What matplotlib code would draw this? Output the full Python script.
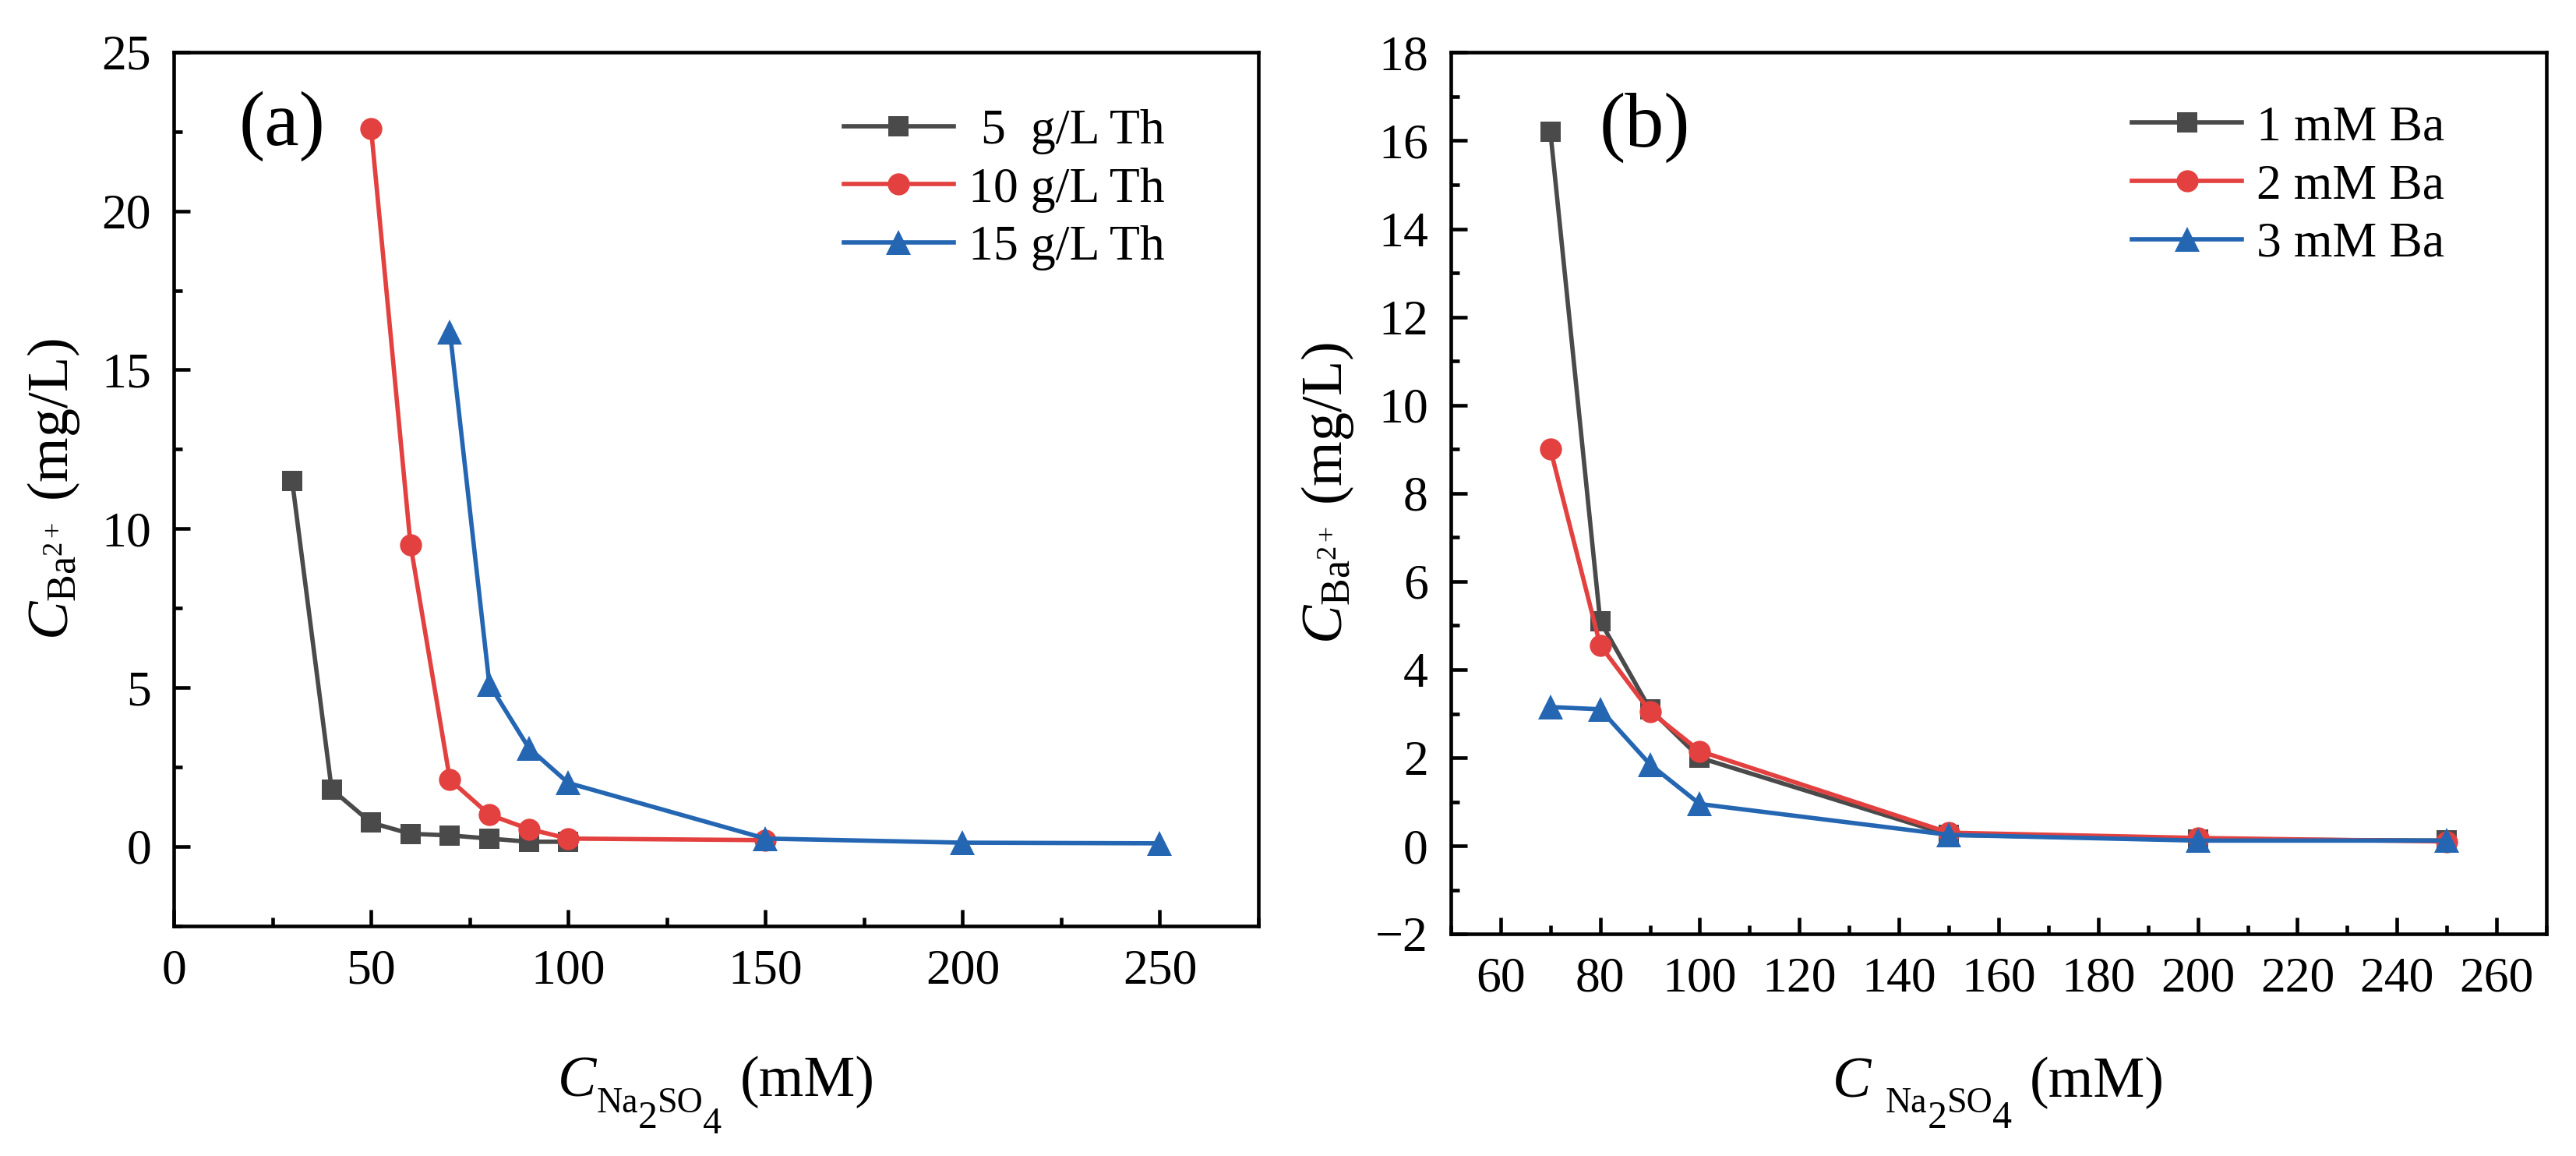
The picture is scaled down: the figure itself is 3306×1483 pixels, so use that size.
import matplotlib
matplotlib.use("Agg")
import matplotlib.pyplot as plt
import matplotlib.transforms as mtransforms
from matplotlib.ticker import MultipleLocator

# Ba2+ left in solution vs Na2SO4 dose, two panels

plt.rcParams['font.family'] = ['Liberation Serif', 'DejaVu Serif']
plt.rcParams['mathtext.fontset'] = 'custom'
plt.rcParams['mathtext.rm'] = 'Liberation Serif'
plt.rcParams['mathtext.it'] = 'Liberation Serif:italic'
plt.rcParams['mathtext.bf'] = 'Liberation Serif:bold'

GREY = "#4a4a4a"
RED = "#e34140"
BLUE = "#2566b3"

# panel (a): thiosulfate dose series
x_5th = [30, 40, 50, 60, 70, 80, 90, 100]
y_5th = [11.5, 1.8, 0.75, 0.4, 0.35, 0.25, 0.15, 0.15]
x_10th = [50, 60, 70, 80, 90, 100, 150]
y_10th = [22.6, 9.5, 2.1, 1.0, 0.55, 0.25, 0.2]
x_15th = [70, 80, 90, 100, 150, 200, 250]
y_15th = [16.2, 5.1, 3.1, 2.0, 0.25, 0.12, 0.1]
labels_a = [" 5  g/L Th", "10 g/L Th", "15 g/L Th"]

# panel (b): Ba dose series
x_ba = [70, 80, 90, 100, 150, 200, 250]
y_1ba = [16.2, 5.1, 3.1, 2.0, 0.25, 0.15, 0.12]
y_2ba = [9.0, 4.55, 3.05, 2.15, 0.3, 0.18, 0.1]
y_3ba = [3.15, 3.1, 1.85, 0.95, 0.25, 0.12, 0.12]
labels_b = ["1 mM Ba", "2 mM Ba", "3 mM Ba"]

TICK_FS = 15.3
LABEL_FS = 17.8
SUB_FS = 11


def style_axes(ax):
    for s in ax.spines.values():
        s.set_linewidth(1.1)
    ax.tick_params(which='both', direction='in', top=False, right=False,
                   labelsize=TICK_FS, width=1.1, pad=7)
    ax.tick_params(which='major', length=5)
    ax.tick_params(which='minor', length=2.6)


def draw_series(ax, xs, ys, labels):
    markers = ['s', 'o', '^']
    colors = [GREY, RED, BLUE]
    sizes = [6.4, 6.8, 7.8]
    for x, y, lab, m, c, ms in zip(xs, ys, labels, markers, colors, sizes):
        ax.plot(x, y, marker=m, color=c, markersize=ms, linewidth=1.35,
                label=lab, markeredgewidth=0)


def pieced_xlabel(ax, parts, y_pts):
    # parts: (text, size, dy in points, style); None text = gap of size points
    fig = ax.figure
    renderer = fig.canvas.get_renderer()
    widths = []
    for s, fs, dy, st in parts:
        if s is None:
            widths.append(fs)
            continue
        t = fig.text(0, 0, s, fontsize=fs, style=st)
        widths.append(t.get_window_extent(renderer).width * 72 / fig.dpi)
        t.remove()
    x = -sum(widths) / 2
    for (s, fs, dy, st), w in zip(parts, widths):
        if s is not None:
            tr = mtransforms.offset_copy(ax.transAxes, fig=fig, x=x,
                                         y=y_pts + dy, units='points')
            ax.text(0.5, 0, s, transform=tr, fontsize=fs, style=st,
                    ha='left', va='baseline')
        x += w


fig = plt.figure(figsize=(3306 / 300, 1483 / 300), dpi=300)

ax1 = fig.add_axes([0.0675, 0.199, 0.421, 0.756])
draw_series(ax1, [x_5th, x_10th, x_15th], [y_5th, y_10th, y_15th], labels_a)
ax1.set_xlim(0, 275)
ax1.set_ylim(-2.5, 25)
ax1.xaxis.set_major_locator(MultipleLocator(50))
ax1.xaxis.set_minor_locator(MultipleLocator(25))
ax1.yaxis.set_major_locator(MultipleLocator(5))
ax1.yaxis.set_minor_locator(MultipleLocator(2.5))
style_axes(ax1)
pieced_xlabel(ax1, [("C", LABEL_FS, 0, 'italic'),
                    ("Na", SUB_FS, -4.8, 'normal'),
                    ("2", 12, -9.6, 'normal'),
                    ("SO", SUB_FS, -4.8, 'normal'),
                    ("4", 11.6, -11.4, 'normal'),
                    (None, 5.5, 0, None),
                    ("(mM)", LABEL_FS, 0, 'normal')], -52.5)
ax1.set_ylabel(r'$C_{\mathrm{Ba}^{2+}}$ (mg/L)', fontsize=LABEL_FS, labelpad=6)
ax1.text(0.10, 0.915, '(a)', transform=ax1.transAxes, fontsize=24,
         ha='center', va='center')
ax1.legend(loc='upper left', bbox_to_anchor=(0.618, 0.935), frameon=False,
           fontsize=TICK_FS, handlelength=2.2, handletextpad=0.3,
           labelspacing=0.25, borderpad=0, borderaxespad=0)

ax2 = fig.add_axes([0.5632, 0.192, 0.4253, 0.7626])
draw_series(ax2, [x_ba, x_ba, x_ba], [y_1ba, y_2ba, y_3ba], labels_b)
ax2.set_xlim(50, 270)
ax2.set_ylim(-2, 18)
ax2.xaxis.set_major_locator(MultipleLocator(20))
ax2.xaxis.set_minor_locator(MultipleLocator(10))
ax2.yaxis.set_major_locator(MultipleLocator(2))
ax2.yaxis.set_minor_locator(MultipleLocator(1))
style_axes(ax2)
pieced_xlabel(ax2, [("C", LABEL_FS, 0, 'italic'),
                    (None, 4.5, 0, None),
                    ("Na", SUB_FS, -4.8, 'normal'),
                    ("2", 12, -9.6, 'normal'),
                    ("SO", SUB_FS, -4.8, 'normal'),
                    ("4", 12, -9.6, 'normal'),
                    (None, 5.5, 0, None),
                    ("(mM)", LABEL_FS, 0, 'normal')], -50.2)
ax2.set_ylabel(r'$C_{\mathrm{Ba}^{2+}}$ (mg/L)', fontsize=LABEL_FS, labelpad=6)
ax2.text(0.177, 0.915, '(b)', transform=ax2.transAxes, fontsize=24,
         ha='center', va='center')
ax2.legend(loc='upper left', bbox_to_anchor=(0.622, 0.94), frameon=False,
           fontsize=TICK_FS, handlelength=2.2, handletextpad=0.3,
           labelspacing=0.25, borderpad=0, borderaxespad=0)

plt.savefig("out.png", dpi=300)
